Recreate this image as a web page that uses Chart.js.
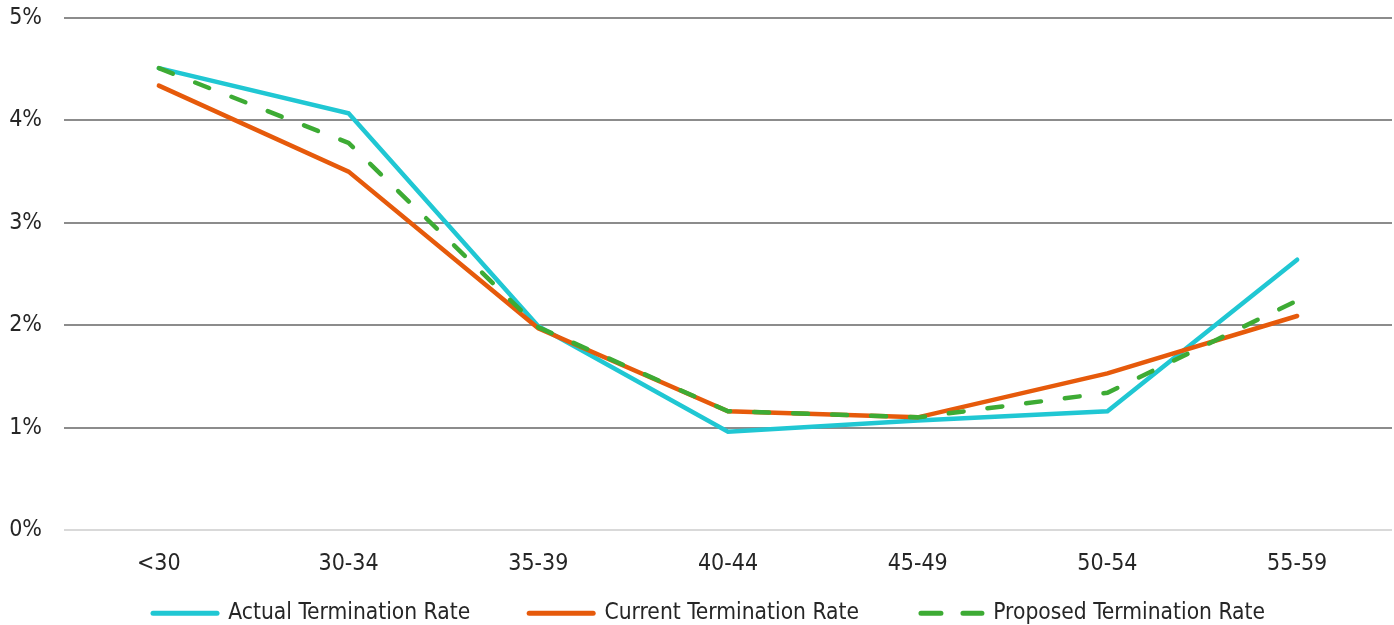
<!DOCTYPE html>
<html>
<head>
<meta charset="utf-8">
<script src="https://cdn.jsdelivr.net/npm/chart.js@4.4.1/dist/chart.umd.min.js"></script>
<style>
  html, body { margin: 0; padding: 0; background: #ffffff; }
  #wrap { width: 1394px; height: 625px; }
</style>
</head>
<body>
<div id="wrap"><canvas id="rateChart" width="1394" height="625"></canvas></div>
<script>
const ageBands = ["<30", "30-34", "35-39", "40-44", "45-49", "50-54", "55-59"];
const actualRate = [4.51, 4.07, 1.99, 0.96, 1.07, 1.16, 2.64];
const currentRate = [4.34, 3.50, 1.97, 1.16, 1.10, 1.53, 2.09];
const proposedRate = [4.51, 3.78, 1.98, 1.16, 1.10, 1.34, 2.24];
const yTicks = [0, 1, 2, 3, 4, 5];

const fontFamily = "'Liberation Sans Narrow', 'DejaVu Sans Condensed', 'Noto Sans', sans-serif";
const textColor = "#262626";

// keep the wide legend spacing without reserving a tall legend box
const legendPlacement = {
  id: "legendPlacement",
  afterInit(chart) {
    const legend = chart.legend;
    const fit = legend.fit;
    legend.fit = function () {
      fit.call(this);
      this.height = 35;
    };
  },
  afterLayout(chart) {
    const legend = chart.legend;
    legend.left += 13;
    legend.right += 13;
    legend.top -= 47;
  }
};

new Chart(document.getElementById("rateChart"), {
  type: "line",
  data: {
    labels: ageBands,
    datasets: [
      {
        label: "Actual Termination Rate",
        data: actualRate,
        borderColor: "#20c7d3",
        backgroundColor: "#20c7d3",
        borderWidth: 4.5,
        order: 2
      },
      {
        label: "Current Termination Rate",
        data: currentRate,
        borderColor: "#e65a0b",
        backgroundColor: "#e65a0b",
        borderWidth: 4.5,
        order: 1
      },
      {
        label: "Proposed Termination Rate",
        data: proposedRate,
        borderColor: "#3dab34",
        backgroundColor: "#3dab34",
        borderWidth: 4.5,
        borderDash: [15, 24],
        order: 0
      }
    ]
  },
  plugins: [legendPlacement],
  options: {
    responsive: false,
    animation: false,
    layout: {
      padding: { top: 18, right: 2, bottom: 0, left: 0 }
    },
    elements: {
      point: { radius: 0, hoverRadius: 0 },
      line: { tension: 0, borderCapStyle: "round", borderJoinStyle: "miter" }
    },
    plugins: {
      tooltip: { enabled: false },
      legend: {
        position: "bottom",
        labels: {
          usePointStyle: true,
          pointStyle: "line",
          pointStyleWidth: 64,
          padding: 59,
          color: textColor,
          font: { family: fontFamily, size: 22.6 },
          sort(a, b) {
            return a.datasetIndex - b.datasetIndex;
          },
          generateLabels(chart) {
            const items = Chart.defaults.plugins.legend.labels.generateLabels(chart);
            items.forEach(item => {
              const ds = chart.data.datasets[item.datasetIndex];
              item.lineWidth = 5;
              item.lineCap = "round";
              item.lineDash = ds.borderDash ? [20, 22] : [];
              item.lineDashOffset = ds.borderDash ? -3 : 0;
            });
            return items;
          }
        }
      }
    },
    scales: {
      x: {
        offset: true,
        afterFit(scale) {
          scale.height = 60;
        },
        grid: { display: false },
        border: { display: false },
        ticks: {
          color: textColor,
          padding: 12,
          font: { family: fontFamily, size: 23 }
        }
      },
      y: {
        min: 0,
        max: 5,
        afterFit(scale) {
          scale.width = 64;
          scale.paddingTop = 0;
          scale.paddingBottom = 0;
        },
        afterBuildTicks(scale) {
          scale.ticks = yTicks.map(v => ({ value: v }));
        },
        border: { display: false },
        grid: {
          drawTicks: false,
          lineWidth: 2,
          color(ctx) {
            return ctx.tick && ctx.tick.value === 0 ? "#d9d9d9" : "#8c8c8c";
          }
        },
        ticks: {
          color: textColor,
          padding: 22,
          font: { family: fontFamily, size: 23 },
          callback(value) {
            return value + "%";
          }
        }
      }
    }
  }
});
</script>
</body>
</html>
